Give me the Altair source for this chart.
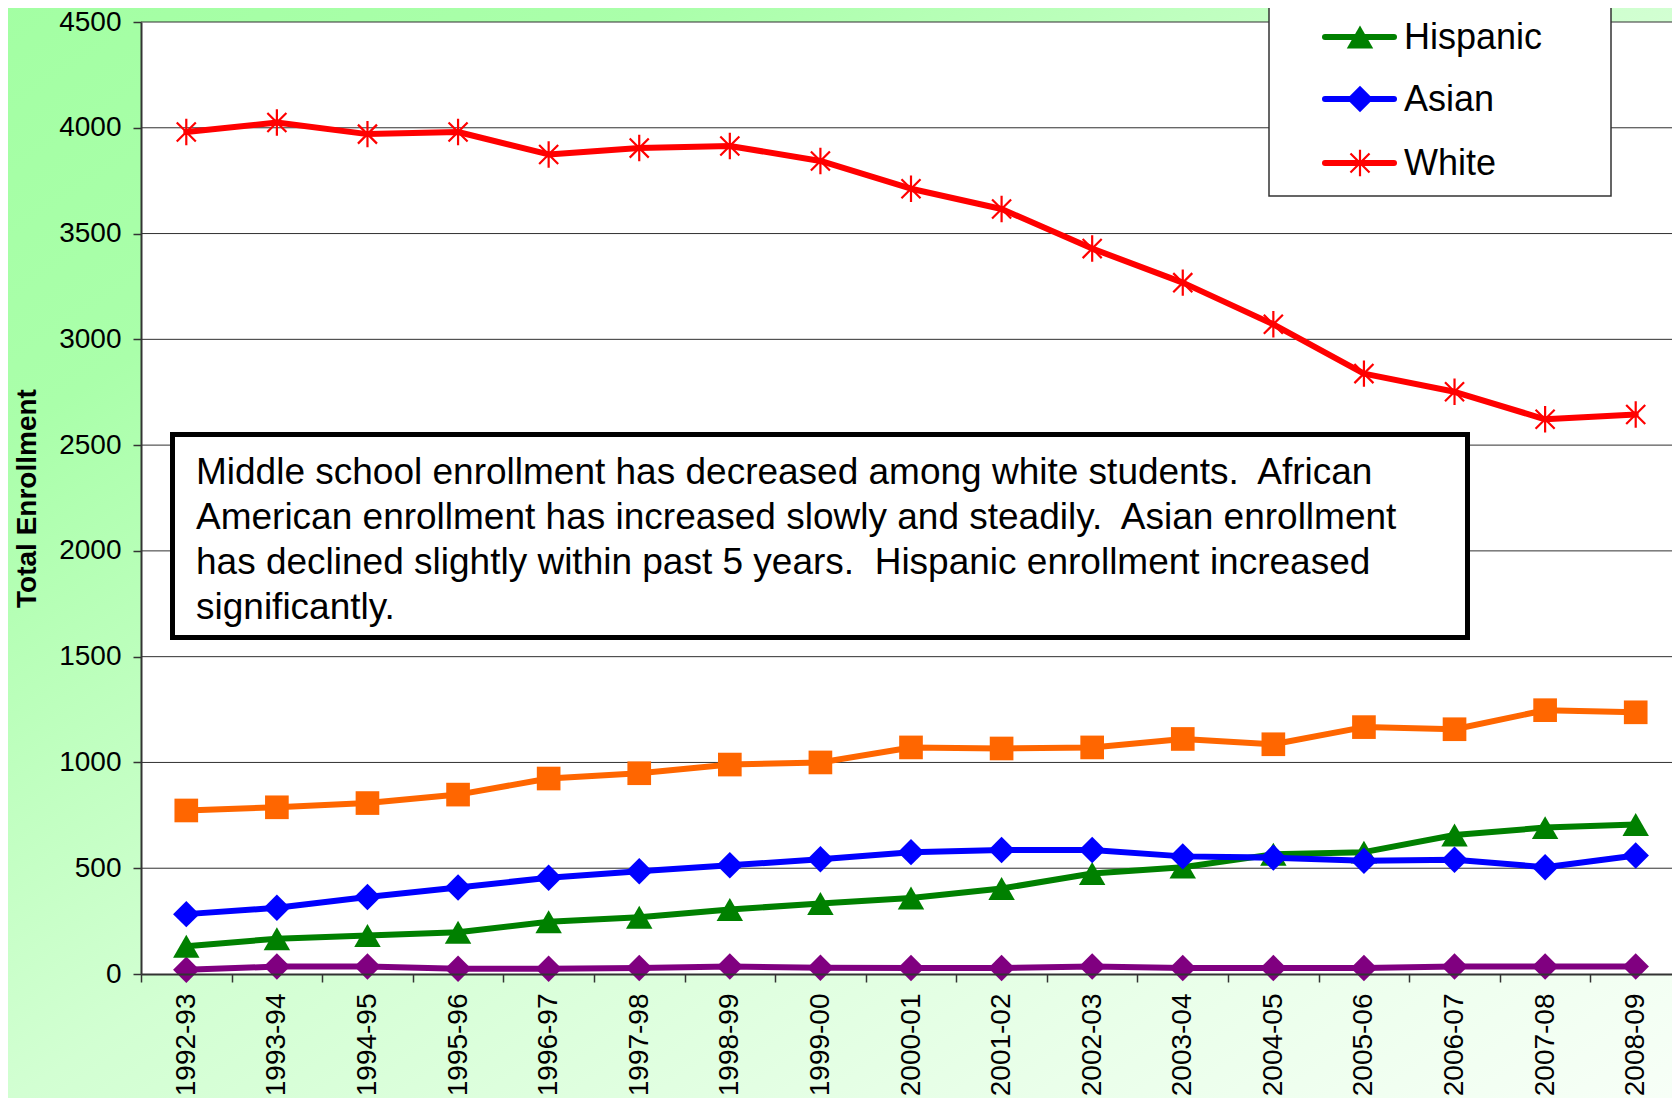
import altair as alt
import pandas as pd

# ---------------- data ----------------
years = ["1992-93", "1993-94", "1994-95", "1995-96", "1996-97", "1997-98",
         "1998-99", "1999-00", "2000-01", "2001-02", "2002-03", "2003-04",
         "2004-05", "2005-06", "2006-07", "2007-08", "2008-09"]

white = [3980, 4025, 3970, 3980, 3874, 3904, 3914, 3843, 3712, 3616, 3429,
         3268, 3071, 2838, 2752, 2622, 2645]
african_american = [773, 788, 808, 848, 924, 949, 990, 1000, 1071, 1066, 1071,
                    1111, 1086, 1167, 1157, 1247, 1237]
asian = [283, 313, 364, 409, 455, 486, 514, 542, 576, 586, 586, 556, 550, 535,
         540, 505, 560]
hispanic = [131, 167, 182, 197, 247, 268, 305, 333, 359, 404, 475, 505, 566,
            576, 657, 692, 707]
american_indian = [20, 35, 35, 25, 25, 28, 35, 30, 28, 28, 35, 28, 28, 28, 35,
                   35, 35]

y_ticks = [0, 500, 1000, 1500, 2000, 2500, 3000, 3500, 4000, 4500]

legend_names = ["Hispanic", "Asian", "White"]

NB = "\u00a0 "  # keeps the double space after a full stop
note_lines = [
    "Middle school enrollment has decreased among white students." + NB + "African",
    "American enrollment has increased slowly and steadily." + NB + "Asian enrollment",
    "has declined slightly within past 5 years." + NB + "Hispanic enrollment increased",
    "significantly.",
]

STAR = "M0,-1L0,1M-0.72,-0.72L0.72,0.72M-0.72,0.72L0.72,-0.72"

series = [
    # name, values, color, shape, filled, size
    ("American Indian", american_indian, "#800080", "diamond", True, 700),
    ("African American", african_american, "#ff6600", "square", True, 560),
    ("Hispanic", hispanic, "#008000", "triangle-up", True, 700),
    ("Asian", asian, "#0000ff", "diamond", True, 700),
    ("White", white, "#ff0000", STAR, False, 700),
]

# ---------------- layout ----------------
FONT = "Liberation Sans"
PAD_L, PAD_T, PAD_R, PAD_B = 133, 14, -9, 124
W, H = 1540, 952

one = alt.Data(values=[{"a": 1}])

xscale = alt.Scale(type="band", domain=years, paddingInner=0, paddingOuter=0)
yscale = alt.Scale(domain=[0, 4500], nice=False, zero=True)

x_enc = alt.X(
    "year:N", scale=xscale, sort=years, bandPosition=0.5,
    axis=alt.Axis(
        title=None, labelAngle=270, labelAlign="right", labelBaseline="middle",
        labelFontSize=28, labelFont=FONT, labelColor="black", labelPadding=11,
        tickBand="extent", tickSize=8, tickColor="#333333", tickWidth=1.5,
        domainColor="#333333", domainWidth=2, grid=False, zindex=1,
    ),
)
y_enc = alt.Y(
    "value:Q", scale=yscale,
    axis=alt.Axis(
        values=y_ticks, format="d", title="Total Enrollment",
        labelFontSize=28, labelFont=FONT, labelColor="black", labelPadding=12,
        tickSize=8, tickColor="#333333", tickWidth=1.5,
        domainColor="#333333", domainWidth=2, grid=False, zindex=1,
        titleFont=FONT, titleFontSize=28, titleFontWeight="bold",
        titleColor="black", titleAngle=270, titleX=-114, titleY=H / 2,
        titleAlign="center", titleBaseline="middle",
    ),
)

gradient = alt.LinearGradient(
    gradient="linear",
    stops=[
        alt.GradientStop(color="#a3ffa3", offset=0),
        alt.GradientStop(color="#aaffaa", offset=0.2),
        alt.GradientStop(color="#d2ffd2", offset=0.5),
        alt.GradientStop(color="#eaffea", offset=0.8),
        alt.GradientStop(color="#f8fff8", offset=1),
    ],
    x1=0, y1=0, x2=1, y2=1,
)

layers = []

# page background
layers.append(
    alt.Chart(one).mark_rect(fill=gradient).encode(
        x=alt.value(-PAD_L - 10), x2=alt.value(W + 20),
        y=alt.value(-PAD_T - 10), y2=alt.value(H + PAD_B + 10),
    )
)
# plot area
layers.append(
    alt.Chart(one).mark_rect(fill="white").encode(
        x=alt.value(0), x2=alt.value(W), y=alt.value(0), y2=alt.value(H),
    )
)
# gridlines
grid_df = pd.DataFrame({"value": y_ticks[1:]})
layers.append(
    alt.Chart(grid_df).mark_rule(color="#303030", strokeWidth=1).encode(
        y=y_enc, x=alt.value(0), x2=alt.value(W + 20),
    )
)

# series
for name, vals, color, shape, filled, size in series:
    df = pd.DataFrame({"year": years, "value": vals, "series": name})
    layers.append(
        alt.Chart(df).mark_line(
            color=color, strokeWidth=6, strokeCap="round", strokeJoin="round"
        ).encode(x=x_enc, y=y_enc)
    )
    if filled:
        pt = alt.Chart(df).mark_point(
            shape=shape, filled=True, fill=color, color=color, size=size,
            opacity=1, strokeWidth=0,
        )
    else:
        pt = alt.Chart(df).mark_point(
            shape=shape, filled=False, stroke=color, color=color, size=size,
            opacity=1, strokeWidth=2.2,
        )
    layers.append(pt.encode(x=x_enc, y=y_enc))

# annotation box
layers.append(
    alt.Chart(one).mark_rect(fill="white", stroke="black", strokeWidth=5).encode(
        x=alt.value(31.5), x2=alt.value(1326.5),
        y=alt.value(412.5), y2=alt.value(615.5),
    )
)
layers.append(
    alt.Chart(one).mark_text(
        text=note_lines, align="left", baseline="alphabetic", font=FONT,
        fontSize=37, lineHeight=45, color="black",
    ).encode(x=alt.value(55), y=alt.value(462))
)

# legend
layers.append(
    alt.Chart(one).mark_rect(fill="white", stroke="#333333", strokeWidth=1.5).encode(
        x=alt.value(1128), x2=alt.value(1470), y=alt.value(-60), y2=alt.value(174),
    )
)
legend_rows = {"Hispanic": 15, "Asian": 77, "White": 141}
for name, vals, color, shape, filled, size in series:
    if name not in legend_names:
        continue
    yy = legend_rows[name]
    layers.append(
        alt.Chart(one).mark_rule(color=color, strokeWidth=6, strokeCap="round").encode(
            x=alt.value(1184), x2=alt.value(1253), y=alt.value(yy),
        )
    )
    if filled:
        sym = alt.Chart(one).mark_point(
            shape=shape, filled=True, fill=color, size=size, opacity=1, strokeWidth=0,
        )
    else:
        sym = alt.Chart(one).mark_point(
            shape=shape, filled=False, stroke=color, size=size, opacity=1, strokeWidth=2.2,
        )
    layers.append(sym.encode(x=alt.value(1219), y=alt.value(yy)))
    layers.append(
        alt.Chart(one).mark_text(
            text=name, align="left", baseline="middle", font=FONT, fontSize=36,
            color="black",
        ).encode(x=alt.value(1263), y=alt.value(yy + 1))
    )

chart = alt.layer(*layers).properties(
    width=W, height=H,
    autosize=alt.AutoSizeParams(type="none"),
    padding={"left": PAD_L, "top": PAD_T, "right": PAD_R, "bottom": PAD_B},
).configure_view(stroke=None)

chart.save("out.html", embed_options={"renderer": "svg", "actions": False})
